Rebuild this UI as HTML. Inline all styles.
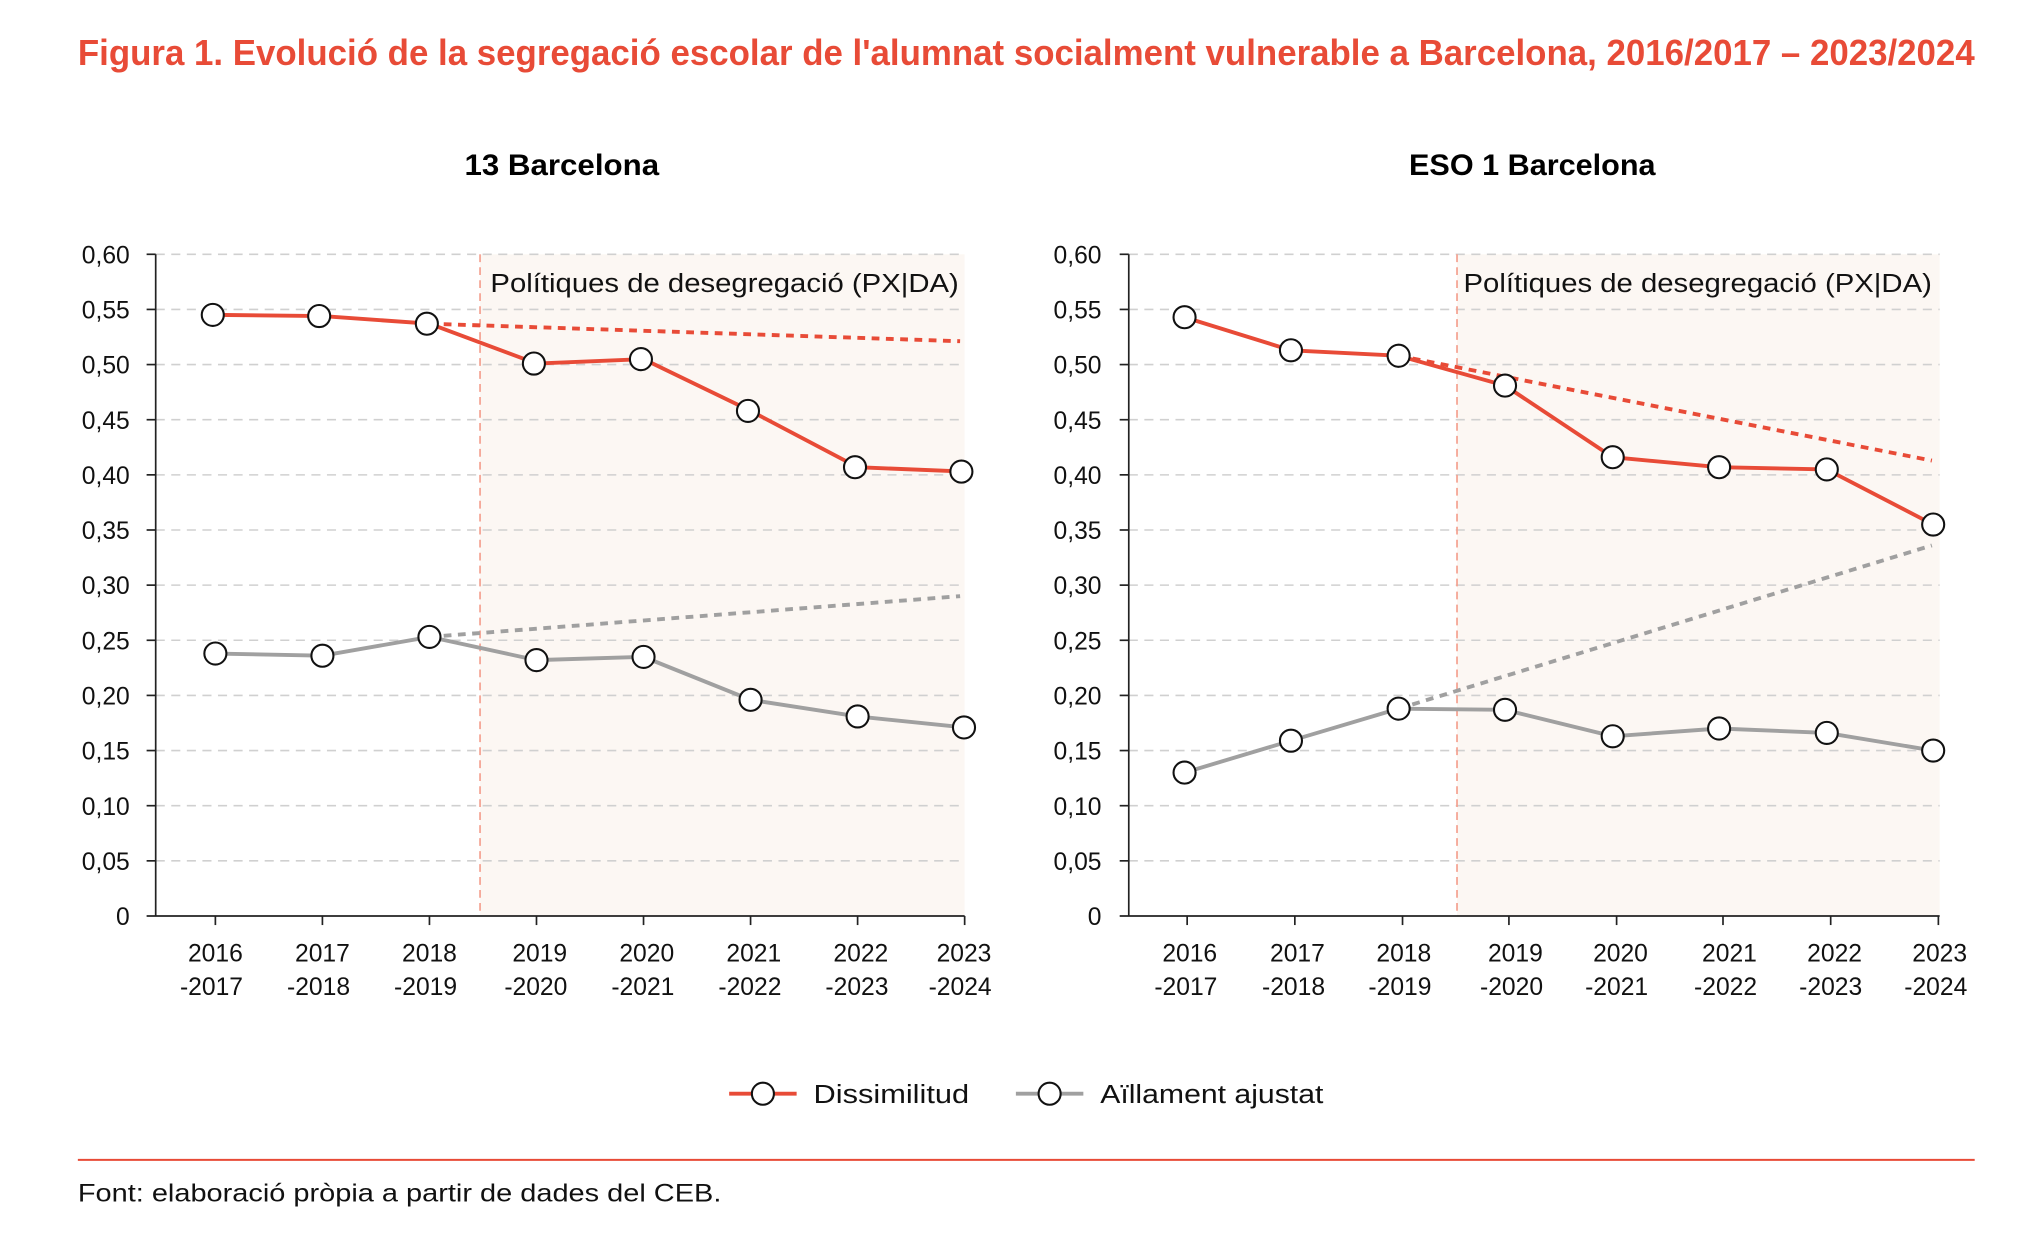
<!DOCTYPE html>
<html><head><meta charset="utf-8"><style>html,body{margin:0;padding:0;background:#fff}svg{display:block}</style></head>
<body>
<svg width="2024" height="1245" viewBox="0 0 1560 959.6" preserveAspectRatio="none" xmlns="http://www.w3.org/2000/svg" font-family="'Liberation Sans', sans-serif">
<text x="60" y="50" font-size="28" font-weight="bold" fill="#e84b37" textLength="1462" lengthAdjust="spacingAndGlyphs">Figura 1. Evolució de la segregació escolar de l'alumnat socialment vulnerable a Barcelona, 2016/2017 – 2023/2024</text>
<text x="433" y="135" font-size="23" font-weight="bold" text-anchor="middle" textLength="150" lengthAdjust="spacingAndGlyphs">13 Barcelona</text>
<text x="1181" y="135" font-size="23" font-weight="bold" text-anchor="middle" textLength="190" lengthAdjust="spacingAndGlyphs">ESO 1 Barcelona</text>

<!-- LEFT -->
<g>
<rect x="370" y="196" width="373.5" height="510" fill="#fcf7f3"/>
<g stroke="#d0d0d0" stroke-width="1.2" stroke-dasharray="7,5">
<line x1="120" x2="743.5" y1="663.5" y2="663.5"/><line x1="120" x2="743.5" y1="621" y2="621"/><line x1="120" x2="743.5" y1="578.5" y2="578.5"/><line x1="120" x2="743.5" y1="536" y2="536"/><line x1="120" x2="743.5" y1="493.5" y2="493.5"/><line x1="120" x2="743.5" y1="451" y2="451"/><line x1="120" x2="743.5" y1="408.5" y2="408.5"/><line x1="120" x2="743.5" y1="366" y2="366"/><line x1="120" x2="743.5" y1="323.5" y2="323.5"/><line x1="120" x2="743.5" y1="281" y2="281"/><line x1="120" x2="743.5" y1="238.5" y2="238.5"/><line x1="120" x2="743.5" y1="196" y2="196"/>
</g>
<line x1="370" x2="370" y1="196" y2="706" stroke="#f4a08f" stroke-width="1.3" stroke-dasharray="6,4"/>
<g stroke="#222" stroke-width="1.3"><line x1="120" x2="120" y1="196" y2="706"/><line x1="113" x2="743.5" y1="706" y2="706"/>
<line x1="113" x2="120" y1="663.5" y2="663.5"/><line x1="113" x2="120" y1="621" y2="621"/><line x1="113" x2="120" y1="578.5" y2="578.5"/><line x1="113" x2="120" y1="536" y2="536"/><line x1="113" x2="120" y1="493.5" y2="493.5"/><line x1="113" x2="120" y1="451" y2="451"/><line x1="113" x2="120" y1="408.5" y2="408.5"/><line x1="113" x2="120" y1="366" y2="366"/><line x1="113" x2="120" y1="323.5" y2="323.5"/><line x1="113" x2="120" y1="281" y2="281"/><line x1="113" x2="120" y1="238.5" y2="238.5"/><line x1="113" x2="120" y1="196" y2="196"/>
<line x1="166" x2="166" y1="706" y2="713"/><line x1="248.5" x2="248.5" y1="706" y2="713"/><line x1="331" x2="331" y1="706" y2="713"/><line x1="413.5" x2="413.5" y1="706" y2="713"/><line x1="496" x2="496" y1="706" y2="713"/><line x1="578.5" x2="578.5" y1="706" y2="713"/><line x1="661" x2="661" y1="706" y2="713"/><line x1="743.5" x2="743.5" y1="706" y2="713"/></g>
<g font-size="19" text-anchor="end" fill="#111">
<text x="100" y="713">0</text><text x="100" y="670.5">0,05</text><text x="100" y="628">0,10</text><text x="100" y="585.5">0,15</text><text x="100" y="543">0,20</text><text x="100" y="500.5">0,25</text><text x="100" y="458">0,30</text><text x="100" y="415.5">0,35</text><text x="100" y="373">0,40</text><text x="100" y="330.5">0,45</text><text x="100" y="288">0,50</text><text x="100" y="245.5">0,55</text><text x="100" y="203">0,60</text>
</g>
<g font-size="19" text-anchor="middle" fill="#111">
<text x="166" y="741">2016</text><text x="163" y="767">-2017</text>
<text x="248.5" y="741">2017</text><text x="245.5" y="767">-2018</text>
<text x="331" y="741">2018</text><text x="328" y="767">-2019</text>
<text x="416" y="741">2019</text><text x="413" y="767">-2020</text>
<text x="498.5" y="741">2020</text><text x="495.5" y="767">-2021</text>
<text x="581" y="741">2021</text><text x="578" y="767">-2022</text>
<text x="663.5" y="741">2022</text><text x="660.5" y="767">-2023</text>
<text x="743" y="741">2023</text><text x="740" y="767">-2024</text>
</g>
<text x="739" y="225" font-size="20" text-anchor="end" fill="#111" textLength="361" lengthAdjust="spacingAndGlyphs">Polítiques de desegregació (PX|DA)</text>
<line x1="331" y1="249.5" x2="740" y2="263" stroke="#e84b37" stroke-width="3" stroke-dasharray="6,5"/>
<line x1="331" y1="490.9" x2="740" y2="459.5" stroke="#a0a0a0" stroke-width="3" stroke-dasharray="6,5"/>
<polyline points="166,242.7 248.5,243.6 331,249.5 413.5,280.2 496,276.8 578.5,316.7 661,360.1 743.5,363.5" fill="none" stroke="#e84b37" stroke-width="3"/>
<polyline points="166,503.7 248.5,505.4 331,490.9 413.5,508.8 496,506.3 578.5,539.4 661,552.2 743.5,560.7" fill="none" stroke="#a0a0a0" stroke-width="3"/>
<g fill="#fff" stroke="#111" stroke-width="1.6">
<circle cx="164" cy="242.7" r="8.5"/><circle cx="246" cy="243.6" r="8.5"/><circle cx="329" cy="249.5" r="8.5"/><circle cx="411.5" cy="280.2" r="8.5"/><circle cx="494" cy="276.8" r="8.5"/><circle cx="576.5" cy="316.7" r="8.5"/><circle cx="659" cy="360.1" r="8.5"/><circle cx="741" cy="363.5" r="8.5"/>
<circle cx="166" cy="503.7" r="8.5"/><circle cx="248.5" cy="505.4" r="8.5"/><circle cx="331" cy="490.9" r="8.5"/><circle cx="413.5" cy="508.8" r="8.5"/><circle cx="496" cy="506.3" r="8.5"/><circle cx="578.5" cy="539.4" r="8.5"/><circle cx="661" cy="552.2" r="8.5"/><circle cx="743" cy="560.7" r="8.5"/>
</g>
</g>

<!-- RIGHT -->
<g>
<rect x="1123" y="196" width="372" height="510" fill="#fcf7f3"/>
<g stroke="#d0d0d0" stroke-width="1.2" stroke-dasharray="7,5">
<line x1="870" x2="1495" y1="663.5" y2="663.5"/><line x1="870" x2="1495" y1="621" y2="621"/><line x1="870" x2="1495" y1="578.5" y2="578.5"/><line x1="870" x2="1495" y1="536" y2="536"/><line x1="870" x2="1495" y1="493.5" y2="493.5"/><line x1="870" x2="1495" y1="451" y2="451"/><line x1="870" x2="1495" y1="408.5" y2="408.5"/><line x1="870" x2="1495" y1="366" y2="366"/><line x1="870" x2="1495" y1="323.5" y2="323.5"/><line x1="870" x2="1495" y1="281" y2="281"/><line x1="870" x2="1495" y1="238.5" y2="238.5"/><line x1="870" x2="1495" y1="196" y2="196"/>
</g>
<line x1="1123" x2="1123" y1="196" y2="706" stroke="#f4a08f" stroke-width="1.3" stroke-dasharray="6,4"/>
<g stroke="#222" stroke-width="1.3"><line x1="870" x2="870" y1="196" y2="706"/><line x1="863" x2="1495" y1="706" y2="706"/>
<line x1="863" x2="870" y1="663.5" y2="663.5"/><line x1="863" x2="870" y1="621" y2="621"/><line x1="863" x2="870" y1="578.5" y2="578.5"/><line x1="863" x2="870" y1="536" y2="536"/><line x1="863" x2="870" y1="493.5" y2="493.5"/><line x1="863" x2="870" y1="451" y2="451"/><line x1="863" x2="870" y1="408.5" y2="408.5"/><line x1="863" x2="870" y1="366" y2="366"/><line x1="863" x2="870" y1="323.5" y2="323.5"/><line x1="863" x2="870" y1="281" y2="281"/><line x1="863" x2="870" y1="238.5" y2="238.5"/><line x1="863" x2="870" y1="196" y2="196"/>
<line x1="915" x2="915" y1="706" y2="713"/><line x1="998" x2="998" y1="706" y2="713"/><line x1="1081" x2="1081" y1="706" y2="713"/><line x1="1163" x2="1163" y1="706" y2="713"/><line x1="1246" x2="1246" y1="706" y2="713"/><line x1="1328" x2="1328" y1="706" y2="713"/><line x1="1411" x2="1411" y1="706" y2="713"/><line x1="1494" x2="1494" y1="706" y2="713"/></g>
<g font-size="19" text-anchor="end" fill="#111">
<text x="849" y="713">0</text><text x="849" y="670.5">0,05</text><text x="849" y="628">0,10</text><text x="849" y="585.5">0,15</text><text x="849" y="543">0,20</text><text x="849" y="500.5">0,25</text><text x="849" y="458">0,30</text><text x="849" y="415.5">0,35</text><text x="849" y="373">0,40</text><text x="849" y="330.5">0,45</text><text x="849" y="288">0,50</text><text x="849" y="245.5">0,55</text><text x="849" y="203">0,60</text>
</g>
<g font-size="19" text-anchor="middle" fill="#111">
<text x="917" y="741">2016</text><text x="914" y="767">-2017</text>
<text x="1000" y="741">2017</text><text x="997" y="767">-2018</text>
<text x="1082" y="741">2018</text><text x="1079" y="767">-2019</text>
<text x="1168" y="741">2019</text><text x="1165" y="767">-2020</text>
<text x="1249" y="741">2020</text><text x="1246" y="767">-2021</text>
<text x="1333" y="741">2021</text><text x="1330" y="767">-2022</text>
<text x="1414" y="741">2022</text><text x="1411" y="767">-2023</text>
<text x="1495" y="741">2023</text><text x="1492" y="767">-2024</text>
</g>
<text x="1489" y="225" font-size="20" text-anchor="end" fill="#111" textLength="361" lengthAdjust="spacingAndGlyphs">Polítiques de desegregació (PX|DA)</text>
<line x1="1078" y1="274.2" x2="1489" y2="355" stroke="#e84b37" stroke-width="3" stroke-dasharray="6,5"/>
<line x1="1078" y1="546.2" x2="1489" y2="420.4" stroke="#a0a0a0" stroke-width="3" stroke-dasharray="6,5"/>
<polyline points="913,244.5 995,270 1078,274.2 1160,297.2 1243,352.4 1325,360.1 1408,361.8 1490,404.3" fill="none" stroke="#e84b37" stroke-width="3"/>
<polyline points="913,595.5 995,570.9 1078,546.2 1160,547.1 1243,567.5 1325,561.5 1408,564.9 1490,578.5" fill="none" stroke="#a0a0a0" stroke-width="3"/>
<g fill="#fff" stroke="#111" stroke-width="1.6">
<circle cx="913" cy="244.5" r="8.5"/><circle cx="995" cy="270" r="8.5"/><circle cx="1078" cy="274.2" r="8.5"/><circle cx="1160" cy="297.2" r="8.5"/><circle cx="1243" cy="352.4" r="8.5"/><circle cx="1325" cy="360.1" r="8.5"/><circle cx="1408" cy="361.8" r="8.5"/><circle cx="1490" cy="404.3" r="8.5"/>
<circle cx="913" cy="595.5" r="8.5"/><circle cx="995" cy="570.9" r="8.5"/><circle cx="1078" cy="546.2" r="8.5"/><circle cx="1160" cy="547.1" r="8.5"/><circle cx="1243" cy="567.5" r="8.5"/><circle cx="1325" cy="561.5" r="8.5"/><circle cx="1408" cy="564.9" r="8.5"/><circle cx="1490" cy="578.5" r="8.5"/>
</g>
</g>

<!-- legend -->
<line x1="562" x2="614" y1="843" y2="843" stroke="#e84b37" stroke-width="3"/>
<circle cx="588" cy="843" r="8.5" fill="#fff" stroke="#111" stroke-width="1.6"/>
<text x="627" y="850" font-size="20" fill="#111" textLength="120" lengthAdjust="spacingAndGlyphs">Dissimilitud</text>
<line x1="783" x2="835" y1="843" y2="843" stroke="#a0a0a0" stroke-width="3"/>
<circle cx="809" cy="843" r="8.5" fill="#fff" stroke="#111" stroke-width="1.6"/>
<text x="848" y="850" font-size="20" fill="#111" textLength="172" lengthAdjust="spacingAndGlyphs">Aïllament ajustat</text>

<line x1="60" x2="1522" y1="894" y2="894" stroke="#e84b37" stroke-width="1.6"/>
<text x="60" y="926" font-size="19" fill="#111" textLength="496" lengthAdjust="spacingAndGlyphs">Font: elaboració pròpia a partir de dades del CEB.</text>
</svg>
</body></html>
